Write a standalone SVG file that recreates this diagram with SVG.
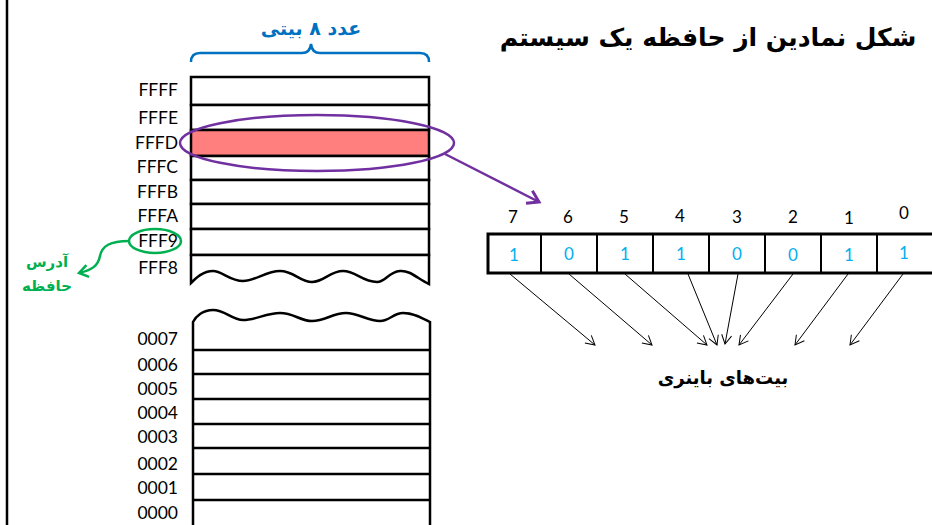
<svg xmlns="http://www.w3.org/2000/svg" width="932" height="525" viewBox="0 0 932 525">
  <style>
    .addr { font-family: Lato, "Liberation Sans", sans-serif; font-size: 17.5px; fill: #000; text-anchor: end; }
    .idx { font-family: Lato, "Liberation Sans", sans-serif; font-size: 17px; fill: #000; text-anchor: middle; }
    .bit { font-family: Lato, "Liberation Sans", sans-serif; font-size: 17px; fill: #00B0F0; text-anchor: middle; }
    .fa { font-family: "DejaVu Sans", sans-serif; font-weight: bold; text-anchor: middle; }
    .cell { fill: #fff; stroke: #000; stroke-width: 2.5; }
    .thin { stroke: #000; stroke-width: 1; fill: none; }
  </style>
  <defs>
    <marker id="open" markerWidth="12" markerHeight="12" refX="10" refY="6" orient="auto" markerUnits="userSpaceOnUse">
      <path d="M1,1 L10,6 L1,11" fill="none" stroke="#000" stroke-width="1"/>
    </marker>
    <marker id="purple" markerWidth="16" markerHeight="16" refX="13" refY="8" orient="auto" markerUnits="userSpaceOnUse">
      <path d="M2,1 L13,8 L2,15" fill="none" stroke="#7030A0" stroke-width="3" stroke-linejoin="miter"/>
    </marker>
    <marker id="green" markerWidth="14" markerHeight="14" refX="11" refY="7" orient="auto" markerUnits="userSpaceOnUse">
      <path d="M2,1 L11,7 L2,13" fill="none" stroke="#00B050" stroke-width="2.5"/>
    </marker>
  </defs>

  <rect width="932" height="525" fill="#fff"/>
  <!-- frame edge on the left -->
  <line x1="7" y1="0" x2="7" y2="525" stroke="#000" stroke-width="2.5"/>

  <!-- title -->
  <text class="fa" x="708" y="46" font-size="25">شکل نمادین از حافظه یک سیستم</text>

  <!-- width brace -->
  <g id="width-label">
    <text class="fa" x="311" y="35" font-size="19" fill="#0070C0">عدد ۸ بیتی</text>
    <path d="M191,62 Q191,53 200,53 L302,53 Q310,53 311,44 Q312,53 320,53 L420,53 Q429,53 429,62" fill="none" stroke="#0070C0" stroke-width="2.5"/>
  </g>

  <!-- upper memory block -->
  <g id="memory-top">
    <rect class="cell" x="191" y="77" width="238" height="28"/>
    <rect class="cell" x="191" y="105" width="238" height="25"/>
    <rect x="191" y="130" width="238" height="26" fill="#FF7F7F" stroke="#000" stroke-width="2.5"/>
    <rect class="cell" x="191" y="156" width="238" height="24"/>
    <rect class="cell" x="191" y="180" width="238" height="24"/>
    <rect class="cell" x="191" y="204" width="238" height="25"/>
    <rect class="cell" x="191" y="229" width="238" height="26"/>
    <path class="cell" d="M191,255 L429,255 L429,284 C418,279 410,270 400,271 C388,272 386,282 377,282 C362,282 356,271 343,271 C330,271 324,282 312,282 C300,282 294,271 280,271 C266,271 255,281 243,281 C230,281 222,271 213,271 C203,271 196,278 191,283 Z"/>
  </g>

  <!-- lower memory block -->
  <g id="memory-bottom">
    <path class="cell" d="M193,526 L193,322 C196,316 203,310 213,310 C225,310 232,320 243,320 C256,320 266,313 280,313 C294,313 300,321 312,321 C326,321 332,313 346,313 C358,313 368,321 380,321 C390,321 393,313 403,313 C414,313 422,318 430,322 L430,526"/>
    <line x1="193" y1="350" x2="430" y2="350" stroke="#000" stroke-width="2.5"/>
    <line x1="193" y1="374" x2="430" y2="374" stroke="#000" stroke-width="2.5"/>
    <line x1="193" y1="399" x2="430" y2="399" stroke="#000" stroke-width="2.5"/>
    <line x1="193" y1="424" x2="430" y2="424" stroke="#000" stroke-width="2.5"/>
    <line x1="193" y1="448" x2="430" y2="448" stroke="#000" stroke-width="2.5"/>
    <line x1="193" y1="474" x2="430" y2="474" stroke="#000" stroke-width="2.5"/>
    <line x1="193" y1="500" x2="430" y2="500" stroke="#000" stroke-width="2.5"/>
  </g>

  <!-- addresses -->
  <g id="addresses">
    <text class="addr" x="178" y="96">FFFF</text>
    <text class="addr" x="178" y="124">FFFE</text>
    <text class="addr" x="178" y="149">FFFD</text>
    <text class="addr" x="178" y="173">FFFC</text>
    <text class="addr" x="178" y="198">FFFB</text>
    <text class="addr" x="178" y="222">FFFA</text>
    <text class="addr" x="178" y="247">FFF9</text>
    <text class="addr" x="178" y="274">FFF8</text>
    <text class="addr" x="178" y="345">0007</text>
    <text class="addr" x="178" y="371">0006</text>
    <text class="addr" x="178" y="395">0005</text>
    <text class="addr" x="178" y="419">0004</text>
    <text class="addr" x="178" y="443">0003</text>
    <text class="addr" x="178" y="470">0002</text>
    <text class="addr" x="178" y="494">0001</text>
    <text class="addr" x="178" y="519">0000</text>
  </g>

  <!-- address callout -->
  <g id="address-callout">
    <ellipse cx="155" cy="241" rx="26" ry="12" fill="none" stroke="#00B050" stroke-width="2.5"/>
    <text class="fa" x="47" y="267" font-size="15" fill="#00B050">آدرس</text>
    <text class="fa" x="47" y="291" font-size="15" fill="#00B050">حافظه</text>
  </g>

  <!-- byte view -->
  <g id="byte">
    <rect x="488" y="234" width="450" height="39" fill="#fff" stroke="#000" stroke-width="3"/>
    <line x1="541" y1="234" x2="541" y2="273" stroke="#000" stroke-width="2"/>
    <line x1="597" y1="234" x2="597" y2="273" stroke="#000" stroke-width="2"/>
    <line x1="653" y1="234" x2="653" y2="273" stroke="#000" stroke-width="2"/>
    <line x1="709" y1="234" x2="709" y2="273" stroke="#000" stroke-width="2"/>
    <line x1="765" y1="234" x2="765" y2="273" stroke="#000" stroke-width="2"/>
    <line x1="821" y1="234" x2="821" y2="273" stroke="#000" stroke-width="2"/>
    <line x1="877" y1="234" x2="877" y2="273" stroke="#000" stroke-width="2"/>
    <text class="bit" x="514" y="261">1</text>
    <text class="bit" x="569" y="260">0</text>
    <text class="bit" x="625" y="260">1</text>
    <text class="bit" x="681" y="260">1</text>
    <text class="bit" x="737" y="260">0</text>
    <text class="bit" x="793" y="261">0</text>
    <text class="bit" x="849" y="261">1</text>
    <text class="bit" x="904" y="259">1</text>
    <text class="idx" x="513" y="223">7</text>
    <text class="idx" x="568" y="223">6</text>
    <text class="idx" x="624" y="223">5</text>
    <text class="idx" x="680" y="222">4</text>
    <text class="idx" x="737" y="223">3</text>
    <text class="idx" x="793" y="223">2</text>
    <text class="idx" x="849" y="224">1</text>
    <text class="idx" x="904" y="219">0</text>
  </g>

  <text id="bits-label" class="fa" x="723" y="384" font-size="18">بیت‌های باینری</text>

  <!-- connectors -->
  <g id="connectors">
    <ellipse cx="317" cy="143" rx="137" ry="28" fill="none" stroke="#7030A0" stroke-width="2.5"/>
    <line x1="445" y1="154" x2="539" y2="202" stroke="#7030A0" stroke-width="2.5" marker-end="url(#purple)"/>
    <path d="M129,241 C110,241 102,246 100,256 C98,266 92,270 79,273" fill="none" stroke="#00B050" stroke-width="2.5" marker-end="url(#green)"/>
    <line class="thin" x1="510" y1="274" x2="595" y2="345" marker-end="url(#open)"/>
    <line class="thin" x1="569" y1="274" x2="652" y2="345" marker-end="url(#open)"/>
    <line class="thin" x1="625" y1="274" x2="707" y2="345" marker-end="url(#open)"/>
    <line class="thin" x1="688" y1="274" x2="717" y2="345" marker-end="url(#open)"/>
    <line class="thin" x1="738" y1="274" x2="725" y2="344" marker-end="url(#open)"/>
    <line class="thin" x1="793" y1="274" x2="739" y2="345" marker-end="url(#open)"/>
    <line class="thin" x1="848" y1="274" x2="795" y2="345" marker-end="url(#open)"/>
    <line class="thin" x1="903" y1="274" x2="850" y2="345" marker-end="url(#open)"/>
  </g>
</svg>
